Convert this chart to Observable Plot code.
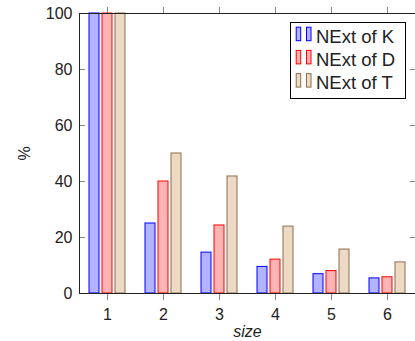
<!DOCTYPE html>
<html><head><meta charset="utf-8">
<script src="https://cdn.jsdelivr.net/npm/d3@7"></script>
<script src="https://cdn.jsdelivr.net/npm/@observablehq/plot@0.6"></script>
<style>
body{margin:0;background:#fff;}
#chart{position:relative;width:415px;height:341px;overflow:hidden;font-family:"Liberation Sans",Arial,sans-serif;}
#legend{position:absolute;left:290px;top:22px;}
</style></head>
<body><div id="chart"></div>
<script>
const sizes = [1, 2, 3, 4, 5, 6];
const seriesNames = ["NExt of K", "NExt of D", "NExt of T"];
const valuesK = [100, 25.0, 14.6, 9.5, 6.9, 5.4];
const valuesD = [100, 40.0, 24.3, 12.1, 8.0, 5.8];
const valuesT = [100, 50.0, 41.8, 23.9, 15.7, 11.1];
const yTicks = [0, 20, 40, 60, 80, 100];
const fills = ["#b3b3ff", "#ffb3b3", "#ecd9c6"];
const strokes = ["#0000ff", "#ff0000", "#8f6d4b"];
const xLabel = "size";
const yLabel = "%";

const seriesValues = [valuesK, valuesD, valuesT];
const table = sizes.flatMap((s, i) => seriesValues.map((v, j) => ({size: s, series: seriesNames[j], value: v[i]})));

const barMarks = seriesNames.map((name, j) =>
  Plot.barY(table.filter(d => d.series === name), {
    fx: "size", x: "series", y: "value", fill: fills[j], stroke: strokes[j], strokeWidth: 1
  })
);

const chart = Plot.plot({
  width: 415, height: 341,
  marginLeft: 79, marginRight: 0, marginTop: 13, marginBottom: 48,
  style: {fontFamily: '"Liberation Sans", Arial, sans-serif', fontSize: "16px", color: "#222", background: "#fff", overflow: "visible"},
  fx: {domain: sizes, paddingInner: 0, paddingOuter: 0, axis: null, label: null},
  x: {domain: seriesNames, paddingInner: 0.23, paddingOuter: 0.72, axis: null},
  y: {domain: [0, 100], axis: null},
  marks: [
    ...barMarks,
    Plot.axisY({anchor: "left", ticks: yTicks, tickSize: -6, tickPadding: 13, stroke: "#888", fill: "#222",
      label: yLabel, labelAnchor: "center", labelArrow: "none", labelOffset: 61}),
    Plot.axisY({anchor: "right", ticks: yTicks, tickSize: -6, tickFormat: () => "", stroke: "#888", label: null}),
    Plot.axisFx({anchor: "bottom", tickSize: 7, tickPadding: 8, stroke: "#888", fill: "#222", label: null}),
    Plot.axisFx({anchor: "bottom", ticks: [], label: xLabel, labelAnchor: "center", labelArrow: "none", labelOffset: 43, fontStyle: "italic", fill: "#222"}),
    Plot.axisFx({anchor: "top", tickSize: 7, tickFormat: () => "", stroke: "#888", label: null}),
    Plot.frame({anchor: "top", stroke: "#222"}),
    Plot.frame({anchor: "bottom", stroke: "#222"}),
    Plot.frame({anchor: "left", stroke: "#222", facetAnchor: "left"})
  ]
});
const root = document.getElementById("chart");
root.appendChild(chart);

// legend
const lg = d3.select(root).append("svg").attr("id", "legend").attr("width", 117).attr("height", 78);
lg.append("rect").attr("x", 0.5).attr("y", 0.5).attr("width", 115).attr("height", 76).attr("fill", "#fff").attr("stroke", "#000");
seriesNames.forEach((name, j) => {
  const y0 = 4.7 + j * 23.2;
  [5.7, 16].forEach(x0 => {
    lg.append("rect").attr("x", x0 + 0.5).attr("y", y0 + 0.5).attr("width", 4.5).attr("height", 13.5)
      .attr("fill", fills[j]).attr("stroke", strokes[j]);
  });
  lg.append("text").attr("x", 26).attr("y", y0 + 16.3).attr("font-size", "18.5px")
    .attr("font-family", '"Liberation Sans", Arial, sans-serif').attr("fill", "#222").text(name);
});
</script></body></html>
